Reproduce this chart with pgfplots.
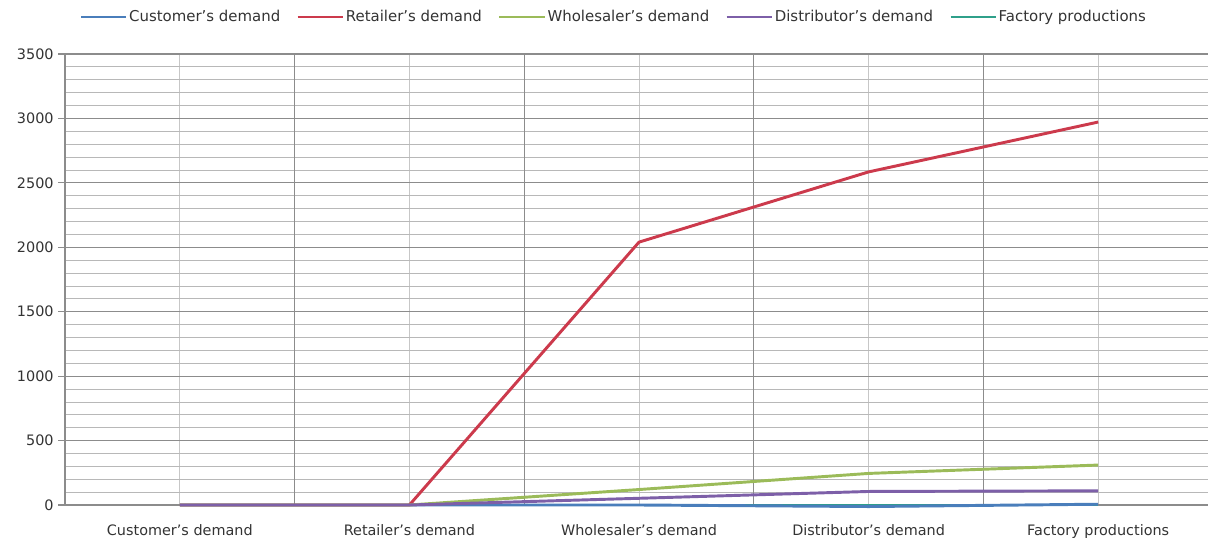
\documentclass[border=0pt]{standalone}
\usepackage{fontspec}
\setmainfont{DejaVu Sans}
\usepackage{pgfplots}
\pgfplotsset{compat=1.18}

\definecolor{custblue}{HTML}{4A7EBB}
\definecolor{retred}{HTML}{CC3A4C}
\definecolor{wholegreen}{HTML}{9BBB59}
\definecolor{distpurple}{HTML}{7D5FA8}
\definecolor{factteal}{HTML}{2FA08A}

\begin{document}
\begin{tikzpicture}[x=1pt,y=1pt]
\path[use as bounding box] (-48.75,-28.5) rectangle (857.25,378.75);
\begin{axis}[
  at={(0,0)}, anchor=south west,
  scale only axis,
  width=861pt, height=338.25pt,
  xmin=-0.5, xmax=4.5,
  ymin=0, ymax=3500,
  clip=false,
  axis x line*=bottom, axis y line*=left,
  axis line style={draw=black!45, line width=0.8pt},
  xtick={0,1,2,3,4},
  xticklabels={Customer’s demand, Retailer’s demand, Wholesaler’s demand, Distributor’s demand, Factory productions},
  x tick label style={yshift=-6pt},
  major x tick style={draw=none},
  extra x ticks={0.5,1.5,2.5,3.5,4.5},
  extra x tick labels={},
  extra x tick style={
    grid=major,
    major grid style={draw=black!45, line width=0.8pt},
    major tick length=5pt,
    tick align=outside,
    major tick style={draw=black!45, line width=0.8pt},
  },
  ytick={0,500,...,3500},
  minor ytick={100,200,...,3400},
  ymajorgrids, yminorgrids, xmajorgrids,
  major grid style={draw=black!22, line width=0.7pt},
  major y grid style={draw=black!45, line width=0.8pt},
  minor y grid style={draw=black!28, line width=0.6pt},
  y tick style={draw=black!45, line width=0.8pt},
  tick align=outside,
  major tick length=5pt,
  minor y tick style={draw=none},
  ticklabel style={font=\fontsize{10.8}{13}\selectfont, text=black!80},
  /pgf/number format/assume math mode=true,
  /pgf/number format/1000 sep={},
  legend columns=5,
  legend style={draw=none, fill=none, at={(0.4777,1.082)}, anchor=center,
    font=\fontsize{11.2}{13}\selectfont, text=black!80,
    /tikz/every even column/.append style={column sep=11pt},
    nodes={inner xsep=1pt}},
  legend image code/.code={\draw[#1] (0pt,0pt) -- (34pt,0pt);},
  every axis plot/.append style={line width=2.2pt},
]
% factory output sits on the zero line, beneath the other series
\addplot[factteal, forget plot] coordinates {(0,0) (1,0) (2,0) (3,0) (4,0)};
\addplot[custblue] coordinates {(0,0) (1,0) (2,0) (3,-12) (4,6)};
\addplot[retred] coordinates {(0,0) (1,0) (2,2040) (3,2585) (4,2972)};
\addplot[wholegreen] coordinates {(0,0) (1,0) (2,120) (3,245) (4,310)};
\addplot[distpurple] coordinates {(0,0) (1,0) (2,52) (3,105) (4,110)};
\addlegendimage{factteal, line width=2.2pt}
\legend{Customer’s demand, Retailer’s demand, Wholesaler’s demand, Distributor’s demand, Factory productions}
\end{axis}
\end{tikzpicture}
\end{document}
